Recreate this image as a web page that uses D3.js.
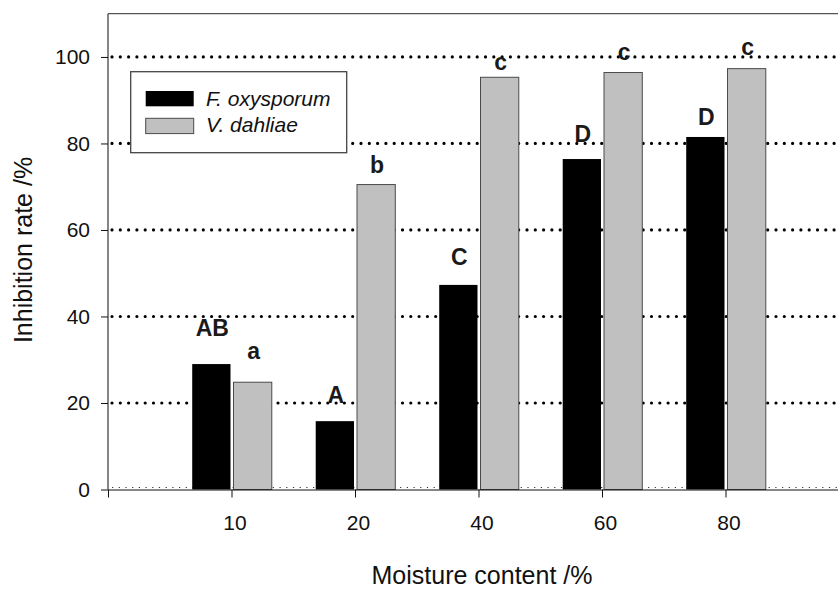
<!DOCTYPE html>
<html><head><meta charset="utf-8">
<script src="https://cdn.jsdelivr.net/npm/d3@7"></script>
<style>body{margin:0;background:#fff} svg{display:block} text{font-family:Arial,"Liberation Sans",sans-serif}</style>
</head><body><svg id="c" width="838" height="591"></svg>
<script>
const categories = ["10", "20", "40", "60", "80"];
const fOxysporum = [29.0, 15.8, 47.3, 76.4, 81.5];
const vDahliae = [24.8, 70.5, 95.3, 96.4, 97.3];
const fLetters = ["AB", "A", "C", "D", "D"];
const vLetters = ["a", "b", "c", "c", "c"];
const fLetterY = [35.5, 20.1, 51.9, 80.4, 84.2];
const vLetterY = [30.2, 73.2, 97.0, 99.4, 100.4];
const yTicks = [0, 20, 40, 60, 80, 100];
const seriesNames = ["F. oxysporum", "V. dahliae"];
const seriesColors = ["#000000", "#c0c0c0"];

const svg = d3.select("#c");
const x = d3.scaleLinear().domain([0, 6]).range([108, 849]);
const y = d3.scaleLinear().domain([0, 110]).range([489.5, 13.7]);
const step = x(1) - x(0);
const barW = step * 0.31;

// gridlines (dotted)
const grid = svg.append("g");
grid.selectAll("line.g").data(yTicks.filter(d => d > 0)).join("line")
  .attr("x1", x(0) + 4).attr("x2", 838).attr("y1", d => y(d)).attr("y2", d => y(d))
  .attr("stroke", "#000").attr("stroke-width", 3.2).attr("stroke-linecap", "round")
  .attr("stroke-dasharray", "0,8.3");
grid.append("line")
  .attr("x1", x(0) + 4).attr("x2", 838).attr("y1", y(0) - 2).attr("y2", y(0) - 2)
  .attr("stroke", "#333").attr("stroke-width", 1.2).attr("stroke-dasharray", "1.2,5.5");

// bars
const data = categories.map((c, i) => ({i, f: fOxysporum[i], v: vDahliae[i]}));
svg.append("g").selectAll("rect").data(data).join("rect")
  .attr("x", d => x(d.i + 1) - barW - 1).attr("width", barW)
  .attr("y", d => y(d.f)).attr("height", d => y(0) - y(d.f))
  .attr("fill", seriesColors[0]);
svg.append("g").selectAll("rect").data(data).join("rect")
  .attr("x", d => x(d.i + 1) + 2).attr("width", barW)
  .attr("y", d => y(d.v)).attr("height", d => y(0) - y(d.v))
  .attr("fill", seriesColors[1]).attr("stroke", "#4a4a4a").attr("stroke-width", 1);

// letters
const lg = svg.append("g").attr("font-weight", "bold").attr("font-size", 23).attr("fill", "#1a1a1a").attr("text-anchor", "middle");
lg.selectAll("text.f").data(data).join("text").attr("class", "f")
  .attr("x", d => x(d.i + 1) - barW / 2).attr("y", d => y(fLetterY[d.i]))
  .text(d => fLetters[d.i]);
lg.selectAll("text.v").data(data).join("text").attr("class", "v")
  .attr("x", d => x(d.i + 1) + 2 + barW / 2 + 1).attr("y", d => y(vLetterY[d.i]))
  .text(d => vLetters[d.i]);

// frame
svg.append("line").attr("x1", x(0)).attr("x2", 849).attr("y1", y(110)).attr("y2", y(110))
  .attr("stroke", "#555").attr("stroke-width", 1.3);

// axes
const ya = svg.append("g").attr("transform", `translate(${x(0)},0)`)
  .call(d3.axisLeft(y).tickValues(yTicks).tickSize(7).tickSizeOuter(0).tickPadding(11));
ya.select(".domain").attr("stroke", "#444").attr("stroke-width", 1.3).attr("d", `M0,${y(0)}V${y(110)}`);
ya.selectAll("text").attr("font-size", 21).attr("fill", "#111").attr("font-family", "Arial,'Liberation Sans',sans-serif");
ya.selectAll(".tick line").attr("stroke", "#111");

const xa = svg.append("g").attr("transform", `translate(0,${y(0)})`)
  .call(d3.axisBottom(x).tickValues([0, 1, 2, 3, 4, 5, 6]).tickFormat(i => categories[i - 1] || "")
    .tickSize(8).tickSizeOuter(0).tickPadding(18));
xa.select(".domain").attr("stroke", "#111").attr("stroke-width", 1.2);
xa.selectAll("text").attr("font-size", 21).attr("fill", "#111").attr("dx", 3).attr("font-family", "Arial,'Liberation Sans',sans-serif");
xa.selectAll(".tick line").attr("stroke", "#111");

// titles
svg.append("text").attr("transform", "translate(32,250) rotate(-90)").attr("text-anchor", "middle")
  .attr("font-size", 25).attr("fill", "#111").text("Inhibition rate /%");
svg.append("text").attr("x", 482).attr("y", 584).attr("text-anchor", "middle")
  .attr("font-size", 25).attr("fill", "#111").text("Moisture content /%");

// legend
const leg = svg.append("g");
leg.append("rect").attr("x", 130.7).attr("y", 71.7).attr("width", 216).attr("height", 81)
  .attr("fill", "#fff").attr("stroke", "#444").attr("stroke-width", 1.3);
seriesNames.forEach((n, k) => {
  leg.append("rect").attr("x", 145.7).attr("y", 91 + k * 27.3).attr("width", 48).attr("height", 15.3)
    .attr("fill", seriesColors[k]).attr("stroke", k ? "#4a4a4a" : "none");
  leg.append("text").attr("x", 206).attr("y", 106 + k * 26).attr("font-size", 21)
    .attr("font-style", "italic").attr("fill", "#111").text(n);
});
</script></body></html>
